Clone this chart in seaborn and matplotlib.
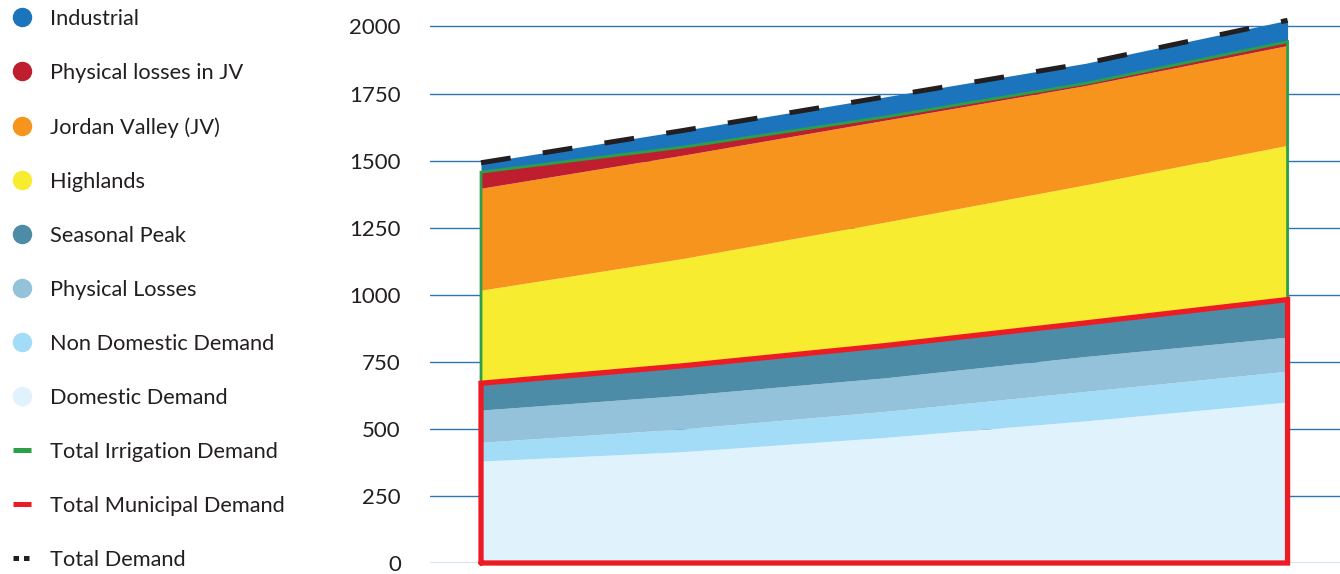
import matplotlib
matplotlib.use("Agg")
import matplotlib.pyplot as plt
import seaborn as sns
import pandas as pd
import numpy as np
from matplotlib.lines import Line2D

sns.set_theme(style="white")
plt.rcParams["font.family"] = ["Lato", "DejaVu Sans"]

# values (MCM), five time steps
years = [2015, 2020, 2025, 2030, 2035]
domestic = [380, 415, 468, 530, 600]
non_domestic = [70, 85, 97, 110, 115]
physical_losses = [120, 125, 125, 130, 127]
seasonal_peak = [100, 110, 120, 125, 140]
highlands = [347, 400, 460, 515, 575]
jordan_valley = [380, 385, 380, 370, 372]
losses_jv = [60, 30, 12, 8, 14]
industrial = [35, 62, 75, 75, 80]

layers = ["Domestic Demand", "Non Domestic Demand", "Physical Losses", "Seasonal Peak",
          "Highlands", "Jordan Valley (JV)", "Physical losses in JV", "Industrial"]
colors = ["#E0F2FC", "#A3DCF7", "#93C2DA", "#4D8CA6",
          "#F7EC2F", "#F7941D", "#BE1E2D", "#1C75BC"]

df = pd.DataFrame({"Year": years, "Domestic Demand": domestic, "Non Domestic Demand": non_domestic,
                   "Physical Losses": physical_losses, "Seasonal Peak": seasonal_peak,
                   "Highlands": highlands, "Jordan Valley (JV)": jordan_valley,
                   "Physical losses in JV": losses_jv, "Industrial": industrial})
df["x"] = np.arange(len(df))
df["Municipal"] = df[layers[:4]].sum(axis=1)
df["Irrigation"] = df[layers[4:7]].sum(axis=1)
df["Total"] = df["Municipal"] + df["Irrigation"] + df["Industrial"]
df["IrrTop"] = df["Municipal"] + df["Irrigation"]

fig = plt.figure(figsize=(13.4, 5.74), dpi=100)
ax = fig.add_axes([430 / 1340, 11 / 574, 910 / 1340, 558 / 574])

ax.stackplot(df["x"], *[df[c] for c in layers], colors=colors, linewidth=0, zorder=2)

# irrigation outline (left side, top, right side)
xs = [0] + list(df["x"]) + [4]
ys = [df["Municipal"].iloc[0]] + list(df["IrrTop"]) + [df["Municipal"].iloc[-1]]
ax.plot(xs, ys, color="#2CA048", lw=2.0, zorder=3, solid_joinstyle="miter")

# municipal outline
xs = [0] + list(df["x"]) + [4, 0]
ys = [0] + list(df["Municipal"]) + [0, 0]
ax.plot(xs, ys, color="#ED1C24", lw=3.8, zorder=4, clip_on=False, solid_joinstyle="miter")

# total demand dashed
sns.lineplot(data=df, x="x", y="Total", color="#231F20", lw=3.6, ax=ax, zorder=5,
             linestyle=(0, (6, 6.5)))

ax.set_xlim(-0.253, 4.26)
ax.set_ylim(0, 2080)
ax.set_yticks(range(0, 2001, 250))
ax.yaxis.grid(True, color="#2E75B6", lw=1)
ax.set_axisbelow(True)
ax.set_xticks([])
ax.set_xlabel("")
ax.set_ylabel("")
for s in ax.spines.values():
    s.set_visible(False)
ax.tick_params(axis="y", length=0, pad=21, labelsize=16, labelcolor="#231F20")

handles = []
for lab in ["Industrial", "Physical losses in JV", "Jordan Valley (JV)", "Highlands",
            "Seasonal Peak", "Physical Losses", "Non Domestic Demand", "Domestic Demand"]:
    c = colors[layers.index(lab)]
    handles.append(Line2D([], [], marker="o", linestyle="none", markersize=13,
                          markerfacecolor=c, markeredgecolor=c, label=lab))
handles.append(Line2D([], [], color="#2CA048", lw=3.6, solid_capstyle="butt", label="Total Irrigation Demand"))
handles.append(Line2D([], [], color="#ED1C24", lw=3.6, solid_capstyle="butt", label="Total Municipal Demand"))
handles.append(Line2D([], [], color="#231F20", lw=3.6, linestyle=(0, (1.1, 1.0)),
                      dash_capstyle="butt", label="Total Demand"))

leg = fig.legend(handles=handles, loc="upper left", bbox_to_anchor=(13 / 1340, 1 - 9 / 574),
                 frameon=False, fontsize=15.7, labelspacing=1.56, handlelength=0.83,
                 handletextpad=0.86, borderpad=0, borderaxespad=0)
for t in leg.get_texts():
    t.set_color("#231F20")

plt.savefig("out.png", dpi=100)
plt.close()
